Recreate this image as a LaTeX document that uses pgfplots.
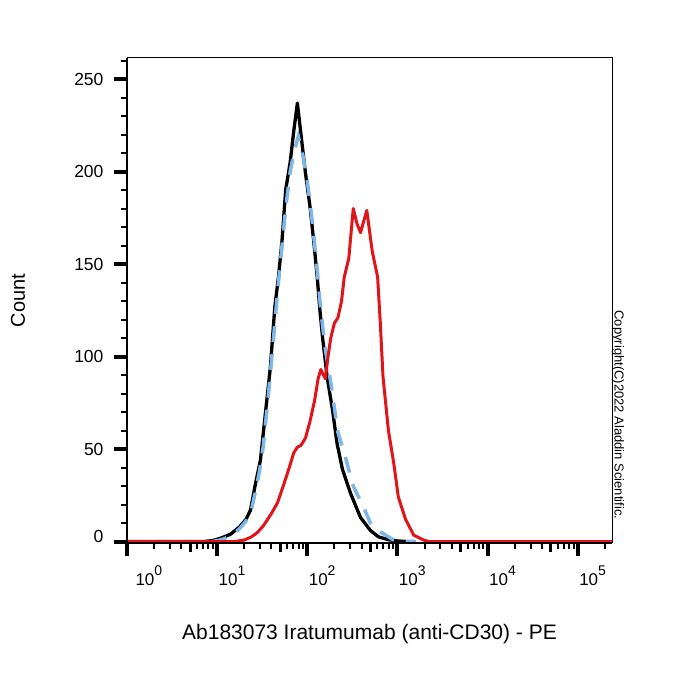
\documentclass[border=0pt]{standalone}
\usepackage{fontspec}
\setmainfont{Liberation Sans}
\usepackage{pgfplots}
\pgfplotsset{compat=1.18}
\definecolor{isoblue}{RGB}{125,182,232}
\definecolor{abred}{RGB}{225,20,25}

% decade label 10^n set in the text font
\newcommand{\dec}[1]{{\fontsize{17}{17}\selectfont 10\raisebox{10pt}{\fontsize{14}{14}\selectfont #1}}}
\newcommand{\tl}[1]{{\fontsize{17.5}{17.5}\selectfont #1}}

% unstained control
\pgfplotstableread{
lx    n
0.00  0
0.85  0
0.95  0.5
1.05  2
1.15  4
1.25  8
1.32  12
1.37  17
1.42  30
1.48  44
1.53  67
1.59  94
1.64  127
1.68  143
1.72  163
1.76  190
1.81  205
1.85  222
1.89  237
1.93  220
1.98  199
2.03  181
2.07  163
2.11  143
2.14  125
2.17  110
2.22  89
2.28  71
2.33  53
2.39  39
2.48  26
2.59  13
2.70  6
2.79  2.5
2.90  1
3.00  0.3
3.10  0
3.20  0
}\unstained

% isotype control
\pgfplotstableread{
lx    n
0.00  0
0.95  0
1.05  1
1.15  3
1.25  7
1.32  11
1.38  17
1.42  26
1.47  38
1.51  51
1.57  80
1.62  107
1.67  135
1.72  160
1.76  180
1.81  200
1.86  212
1.90  219
1.95  209
2.00  195
2.05  175
2.10  152
2.15  125
2.20  104
2.26  86
2.34  59
2.42  46
2.51  30
2.62  19
2.70  10
2.78  6
2.87  3.5
2.95  1
3.05  0
3.20  0
}\isotype

% Iratumumab - PE
\pgfplotstableread{
lx    n
0.00  0
1.20  0
1.30  0.8
1.38  2.5
1.45  5
1.52  9
1.60  15
1.67  21
1.74  31
1.80  40
1.85  48
1.89  51
1.93  52
1.98  56
2.03  65
2.08  76
2.12  88
2.15  93
2.20  88
2.23  100
2.26  110
2.30  118
2.34  121
2.38  130
2.41  143
2.46  153
2.51  180
2.55  172
2.59  167
2.66  179
2.72  157
2.78  143
2.81  118
2.84  89
2.90  60
2.96  42
3.01  24
3.09  12
3.18  3.5
3.29  0.8
3.35  0
5.38  0
}\stained

\begin{document}
\begin{tikzpicture}
\useasboundingbox (0,0) rectangle (700pt,700pt);
\begin{axis}[
  at={(127pt,157pt)}, anchor=south west,
  scale only axis, width=485pt, height=485pt,
  xmin=0, xmax=5.38, ymin=-0.8, ymax=261.4,
  clip=false,
  axis line style={line width=1pt},
  tick align=outside,
  xtick pos=left, ytick pos=left,
  major tick length=13pt, minor tick length=6pt,
  major tick style={line width=4pt, black},
  minor tick style={line width=2pt, black},
  xtick={0,1,2,3,4,5},
  xticklabels={\hspace{7pt}\dec{0},\dec{1},\dec{2},\dec{3},\dec{4},\dec{5}},
  minor xtick={0.30103,0.47712,0.60206,0.77815,0.84510,0.90309,0.95424,
               1.30103,1.47712,1.60206,1.77815,1.84510,1.90309,1.95424,
               2.30103,2.47712,2.60206,2.77815,2.84510,2.90309,2.95424,
               3.30103,3.47712,3.60206,3.77815,3.84510,3.90309,3.95424,
               4.30103,4.47712,4.60206,4.77815,4.84510,4.90309,4.95424,
               5.30103},
  extra x ticks={0.69897,1.69897,2.69897,3.69897,4.69897},
  extra x tick labels={},
  extra x tick style={major tick length=9pt, major tick style={line width=3pt}},
  ytick={0,50,100,150,200,250},
  yticklabels={\raisebox{10pt}{\tl{0}},\tl{50},\tl{100},\tl{150},\tl{200},\tl{250}},
  yticklabel style={xshift=-7pt},
  minor ytick={10,20,30,40,60,70,80,90,110,120,130,140,160,170,180,190,210,220,230,240,260},
  xticklabel style={anchor=north west, xshift=-2pt, yshift=-6pt},
  xlabel={\fontsize{21}{21}\selectfont Ab183073 Iratumumab (anti-CD30) - PE},
  ylabel={\fontsize{20}{20}\selectfont Count},
  xlabel style={at={(axis description cs:0.5,0)}, anchor=base, yshift=-97pt},
  ylabel style={at={(axis description cs:-0.2247,0.5)}, anchor=center},
]
\addplot[black, line width=3.3pt, line join=round] table[x=lx, y=n] {\unstained};
\addplot[isoblue, line width=3.5pt, dash pattern=on 16pt off 12pt] table[x=lx, y=n] {\isotype};
\addplot[abred, line width=3pt, line join=round] table[x=lx, y=n] {\stained};
\draw[line width=2pt] (rel axis cs:0,1) -- (rel axis cs:0,0) -- (rel axis cs:1,0);
\node[rotate=-90, anchor=center, font=\fontsize{13}{13}\selectfont]
  at (axis description cs:1.0124,0.264) {Copyright(C)2022 Aladdin Scientific.};
\end{axis}
\end{tikzpicture}
\end{document}
